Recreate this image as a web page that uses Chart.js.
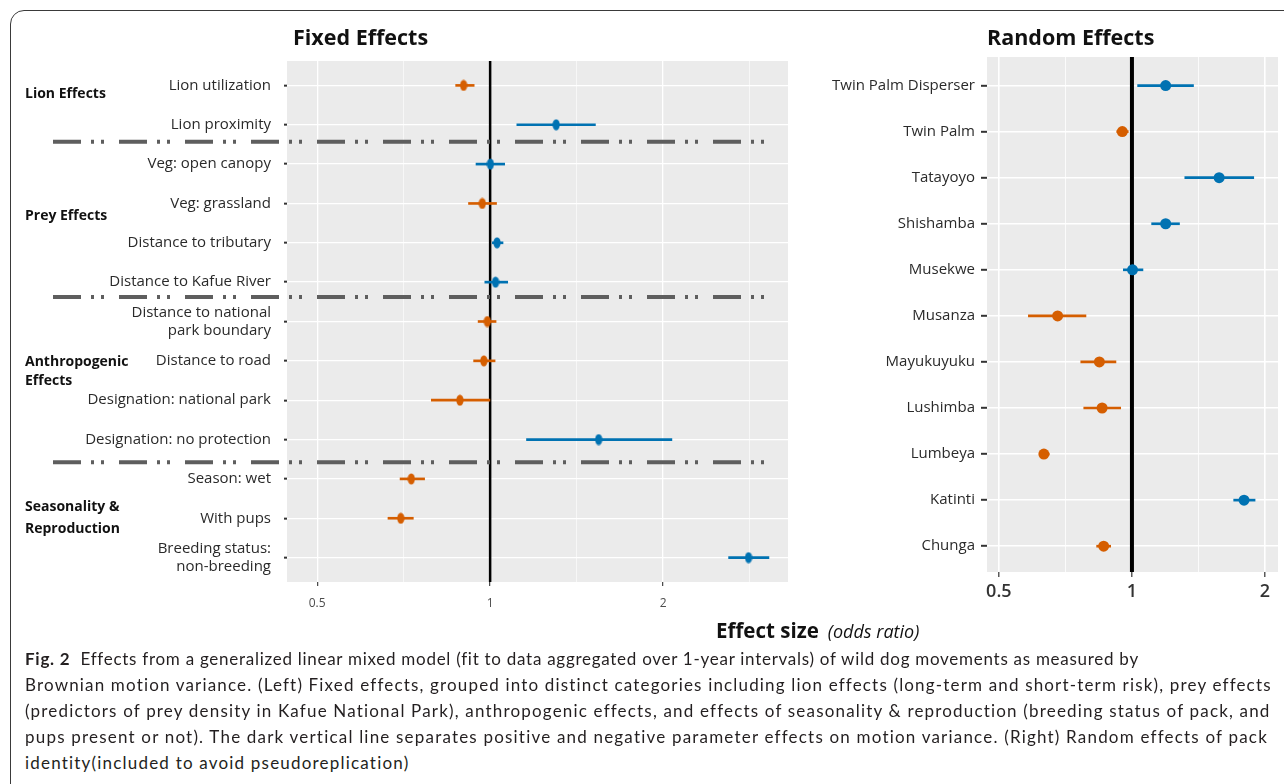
<!DOCTYPE html>
<html><head><meta charset="utf-8">
<script src="https://cdn.jsdelivr.net/npm/chart.js@4"></script>
<style>
html,body{margin:0;padding:0}
body{width:1284px;height:784px;overflow:hidden;background:#fff;font-family:'Open Sans',sans-serif;position:relative}
#frame{position:absolute;left:10px;top:10px;width:1300px;height:800px;border:1.5px solid #3a3a3a;border-radius:14px;box-sizing:border-box}
canvas{position:absolute;top:0}
.t{position:absolute;white-space:nowrap;color:#111}
.g{font-weight:700;font-size:14px;color:#111}
.cap{position:absolute;left:25px;white-space:nowrap;font-family:Lato,'Open Sans',sans-serif;font-size:17px;line-height:26px;color:#231f20}
</style></head><body>
<div id="frame"></div>
<canvas id="left" width="800" height="620" style="left:0"></canvas>
<canvas id="right" width="484" height="620" style="left:800px"></canvas>

<div class="t" style="left:293px;top:22px;font-weight:700;font-size:21.5px;line-height:30px">Fixed Effects</div>
<div class="t" style="left:987px;top:22px;font-weight:700;font-size:21.5px;line-height:30px">Random Effects</div>

<div class="t g" style="left:25px;top:83px;line-height:20px">Lion Effects</div>
<div class="t g" style="left:25px;top:205px;line-height:20px">Prey Effects</div>
<div class="t g" style="left:25px;top:351px;line-height:19px">Anthropogenic<br>Effects</div>
<div class="t g" style="left:25px;top:495px;line-height:22px">Seasonality &amp;<br>Reproduction</div>

<div class="t" style="left:716px;top:615px;line-height:30px"><span style="font-weight:700;font-size:20.5px">Effect size</span><span style="font-style:italic;font-size:18px;margin-left:9px">(odds ratio)</span></div>

<div id="caption">
<div class="cap" data-w="1113" style="top:646px"><b>Fig. 2</b>&nbsp;&nbsp;Effects from a generalized linear mixed model (fit to data aggregated over 1-year intervals) of wild dog movements as measured by</div>
<div class="cap" data-w="1245" style="top:672px">Brownian motion variance. (Left) Fixed effects, grouped into distinct categories including lion effects (long-term and short-term risk), prey effects</div>
<div class="cap" data-w="1245" style="top:698px">(predictors of prey density in Kafue National Park), anthropogenic effects, and effects of seasonality &amp; reproduction (breeding status of pack, and</div>
<div class="cap" data-w="1243" style="top:724px">pups present or not). The dark vertical line separates positive and negative parameter effects on motion variance. (Right) Random effects of pack</div>
<div class="cap" data-w="385" style="top:750px">identity(included to avoid pseudoreplication)</div>
</div>

<script>
// ---------- data ----------
const fixedLabels = ["Lion utilization","Lion proximity","Veg: open canopy","Veg: grassland","Distance to tributary","Distance to Kafue River",["Distance to national","park boundary"],"Distance to road","Designation: national park","Designation: no protection","Season: wet","With pups",["Breeding status:","non-breeding"]];
const fixedEstimate = [0.899,1.303,1.001,0.969,1.028,1.022,0.989,0.975,0.886,1.545,0.729,0.699,2.817];
const fixedLower    = [0.871,1.113,0.945,0.917,1.009,0.979,0.953,0.936,0.790,1.157,0.697,0.664,2.601];
const fixedUpper    = [0.938,1.525,1.060,1.026,1.053,1.073,1.024,1.020,0.999,2.072,0.769,0.735,3.057];

const randomLabels = ["Twin Palm Disperser","Twin Palm","Tatayoyo","Shishamba","Musekwe","Musanza","Mayukuyuku","Lushimba","Lumbeya","Katinti","Chunga"];
const randomEstimate = [1.192,0.951,1.575,1.192,1.003,0.679,0.844,0.856,0.632,1.793,0.863];
const randomLower    = [1.030,0.924,1.317,1.108,0.956,0.583,0.766,0.778,0.618,1.699,0.832];
const randomUpper    = [1.378,0.981,1.886,1.281,1.059,0.787,0.920,0.943,0.650,1.899,0.895];

const majorTicks = [0.5, 1, 2];
const tickLabels = ["0.5", "1", "2"];
// ---------------------------

const BLUE = '#0072B2', ORANGE = '#D55E00';
const minorTicks = [Math.SQRT1_2, Math.SQRT2, 2 * Math.SQRT2];
Chart.defaults.font.family = "'Open Sans', sans-serif";

const colorOf = v => v >= 1 ? BLUE : ORANGE;
const isMajor = v => majorTicks.some(m => Math.abs(m - v) < 1e-9);
const labelOf = v => { const i = majorTicks.findIndex(m => Math.abs(m - v) < 1e-9); return i >= 0 ? tickLabels[i] : ''; };

function ellipseImg(color) {
  const c = document.createElement('canvas');
  c.width = 8; c.height = 12;
  const g = c.getContext('2d');
  g.fillStyle = color;
  g.beginPath(); g.ellipse(4, 6, 3.6, 5.6, 0, 0, Math.PI * 2); g.fill();
  return c;
}
const imgBlue = ellipseImg(BLUE), imgOrange = ellipseImg(ORANGE);

const bgPlugin = { id: 'bg', beforeDraw(c) {
  const { ctx, chartArea: a } = c;
  ctx.save(); ctx.fillStyle = '#EBEBEB';
  ctx.fillRect(a.left, a.top, a.right - a.left, a.bottom - a.top); ctx.restore();
}};
function refLine(width) {
  return { id: 'ref', beforeDatasetsDraw(c) {
    const { ctx, chartArea: a } = c; const x = c.scales.x.getPixelForValue(1);
    ctx.save(); ctx.strokeStyle = '#000'; ctx.lineWidth = width;
    ctx.beginPath(); ctx.moveTo(x, a.top); ctx.lineTo(x, a.bottom); ctx.stroke(); ctx.restore();
  }};
}
const sepPlugin = { id: 'sep', afterDraw(c) {
  const { ctx } = c; const y = c.scales.y;
  ctx.save(); ctx.strokeStyle = '#5e5e5e'; ctx.lineWidth = 4; ctx.setLineDash([28, 10, 3, 7, 3, 15]);
  [1.43, 5.38, 9.58].forEach(v => {
    const py = y.getPixelForValue(v);
    ctx.beginPath(); ctx.moveTo(53, py); ctx.lineTo(776, py); ctx.stroke();
  });
  ctx.restore();
}};

function xScale(min, max, opts) {
  return {
    type: 'logarithmic', min, max, offset: false,
    afterBuildTicks: s => {
      s.ticks = [...majorTicks, ...minorTicks].filter(v => v >= min && v <= max)
        .sort((a, b) => a - b).map(v => ({ value: v }));
    },
    afterFit: s => { s.height = opts.height; },
    border: { display: false },
    grid: {
      offset: false,
      color: '#ffffff',
      lineWidth: ctx => isMajor(ctx.tick.value) ? opts.major : opts.minor,
      tickColor: ctx => isMajor(ctx.tick.value) ? opts.tickColor : 'rgba(0,0,0,0)',
      tickLength: opts.tickLength, tickWidth: 1.2
    },
    ticks: { autoSkip: false, maxRotation: 0, padding: opts.padding, color: opts.color, font: opts.font, callback: v => labelOf(v) }
  };
}
function yScale(labels, min, max, opts) {
  return {
    type: 'linear', reverse: true, min, max, offset: false,
    afterBuildTicks: s => { s.ticks = labels.map((_, i) => ({ value: i })); },
    afterFit: s => { s.width = opts.width; },
    border: { display: false },
    grid: { offset: false, color: '#ffffff', lineWidth: opts.gridWidth, tickColor: '#333', tickLength: opts.tickLength, tickWidth: 2 },
    ticks: { autoSkip: false, padding: opts.padding, color: '#2a2a2a', font: opts.font, callback: v => labels[v] }
  };
}

new Chart(document.getElementById('left'), {
  type: 'scatter',
  data: { datasets: [
    { type: 'bar', indexAxis: 'y', order: 1,
      data: fixedLabels.map((_, i) => ({ x: [fixedLower[i], fixedUpper[i]], y: i })),
      backgroundColor: fixedEstimate.map(colorOf), barThickness: 2, borderWidth: 0, borderSkipped: false, grouped: false },
    { type: 'scatter', order: 0,
      data: fixedEstimate.map((v, i) => ({ x: v, y: i })),
      pointStyle: fixedEstimate.map(v => v >= 1 ? imgBlue : imgOrange), pointRadius: 5 }
  ]},
  options: {
    responsive: false, animation: false, events: [],
    layout: { padding: { top: 61, right: 12, left: 0, bottom: 0 } },
    plugins: { legend: { display: false }, tooltip: { enabled: false } },
    scales: {
      x: xScale(0.443, 3.30, { height: 38, major: 1.3, minor: 0.6, tickColor: '#444', tickLength: 4, padding: 10, color: '#4d4d4d', font: { size: 12 } }),
      y: yScale(fixedLabels, -0.62, 12.62, { width: 287, gridWidth: 1.3, tickLength: 3, padding: 13, font: { size: 15 } })
    }
  },
  plugins: [bgPlugin, refLine(2.5), sepPlugin]
});

new Chart(document.getElementById('right'), {
  type: 'scatter',
  data: { datasets: [
    { type: 'bar', indexAxis: 'y', order: 1,
      data: randomLabels.map((_, i) => ({ x: [randomLower[i], randomUpper[i]], y: i })),
      backgroundColor: randomEstimate.map(colorOf), barThickness: 2, borderWidth: 0, borderSkipped: false, grouped: false },
    { type: 'scatter', order: 0,
      data: randomEstimate.map((v, i) => ({ x: v, y: i })),
      pointStyle: 'circle', pointRadius: 5.5, borderWidth: 0,
      backgroundColor: randomEstimate.map(colorOf) }
  ]},
  options: {
    responsive: false, animation: false, events: [],
    layout: { padding: { top: 57, right: 6, left: 0, bottom: 0 } },
    plugins: { legend: { display: false }, tooltip: { enabled: false } },
    scales: {
      x: xScale(0.47, 2.14, { height: 48, major: 1.6, minor: 0.8, tickColor: '#333', tickLength: 5, padding: 4, color: '#333', font: { size: 18, weight: '600' } }),
      y: yScale(randomLabels, -0.62, 10.56, { width: 187, gridWidth: 1.6, tickLength: 6, padding: 6, font: { size: 15 } })
    }
  },
  plugins: [bgPlugin, refLine(4)]
});

// fit each caption line to the width it has in the figure
document.querySelectorAll('.cap').forEach(el => {
  const w = el.getBoundingClientRect().width;
  const n = el.textContent.length;
  el.style.letterSpacing = ((+el.dataset.w - w) / n).toFixed(3) + 'px';
});
</script>
</body></html>
